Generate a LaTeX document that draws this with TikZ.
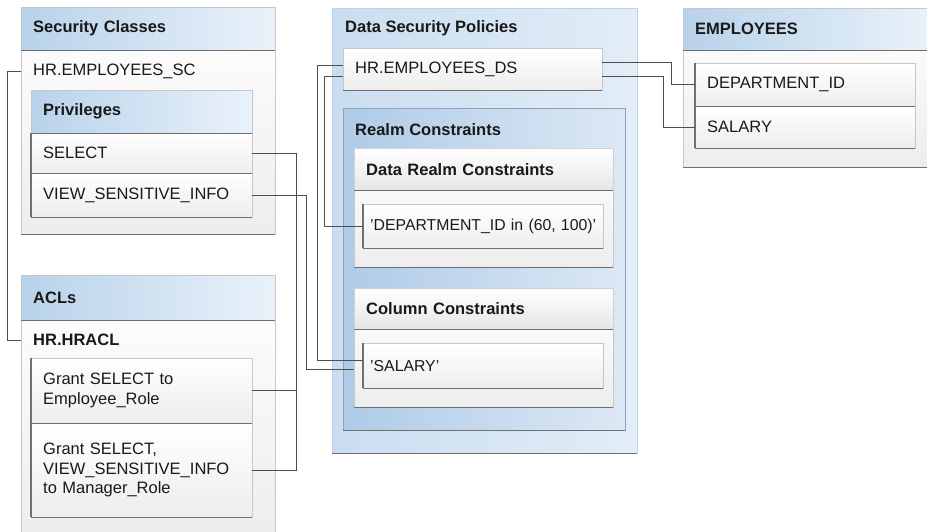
\documentclass[tikz,border=0pt]{standalone}
\usepackage{fontspec}
\setmainfont{Liberation Sans}
\usetikzlibrary{positioning}
\definecolor{headL}{HTML}{B8D2EA}
\definecolor{headR}{HTML}{EAF2FA}
\definecolor{polL}{HTML}{CADDF0}
\definecolor{polR}{HTML}{E2EDF7}
\definecolor{realmL}{HTML}{AFCBE7}
\definecolor{realmR}{HTML}{DCE8F5}
\definecolor{rim}{HTML}{707070}
\definecolor{wire}{HTML}{4E4E4E}
\newcommand{\plainfont}{\fontsize{16.5}{20}\selectfont}
\tikzset{box/.style = {anchor=north west, inner xsep=12pt, inner ysep=0pt, align=left, text=black!90, font=\plainfont},
         panel/.style = {box, draw=black!22, top color=white, bottom color=black!7},
         headbox/.style = {box, draw=black!22, left color=headL, right color=headR, font=\plainfont\bfseries},
         greyhead/.style = {box, draw=black!18, top color=white, bottom color=black!10, font=\plainfont\bfseries},
         tag/.style = {anchor=west, inner sep=0pt, text=black!90, font=\plainfont},
         boldtag/.style = {tag, font=\plainfont\bfseries},
         link/.style = {draw=wire, line width=0.9pt},
         rimline/.style = {draw=rim, line width=1.3pt}}

\begin{document}
\begin{tikzpicture}[x=1pt,y=-1pt]
\clip (0,0) rectangle (927,532);
\fill[white] (0,0) rectangle (927,532);

% security classes
\node[panel, minimum width=254pt, minimum height=227pt] (sc) at (21,7) {};
\node[headbox, text width=230pt, minimum height=43pt] (schd) at (21,7) {Security Classes};
\node[tag] (scname) at (33,71) {HR.EMPLOYEES\_SC};
\node[panel, minimum width=221pt, minimum height=127pt] (priv) at (31,90) {};
\node[headbox, text width=197pt, minimum height=43pt] (privhd) at (31,90) {Privileges};
\node[panel, text width=197pt, minimum height=40pt] (sel) at (31,133) {SELECT};
\node[panel, text width=197pt, minimum height=44pt] (vsi) at (31,173) {VIEW\_SENSITIVE\_INFO};

% acls
\node[panel, minimum width=254pt, minimum height=265pt] (acl) at (21,275) {};
\node[headbox, text width=230pt, minimum height=45pt] (aclhd) at (21,275) {ACLs};
\node[boldtag] (aclname) at (33,340) {HR.HRACL};
\node[panel, text width=197pt, minimum height=65pt] (grant) at (31,358) {Grant SELECT to\\Employee\_Role};
\node[panel, text width=197pt, minimum height=94pt, font=\fontsize{16.5}{19.5}\selectfont] (mgr) at (31,423) {Grant SELECT,\\VIEW\_SENSITIVE\_INFO\\to Manager\_Role};

% data security policies
\node[box, draw=headL, left color=polL, right color=polR, minimum width=305pt, minimum height=445pt] (dsp) at (332,8) {};
\node[boldtag] (dsptitle) at (345,28) {Data Security Policies};
\node[panel, text width=235pt, minimum height=42pt] (ds) at (343,48) {HR.EMPLOYEES\_DS};
\node[box, draw=realmL!80!black, left color=realmL, right color=realmR, minimum width=282pt, minimum height=322pt] (realm) at (343,108) {};
\node[boldtag] (realmtitle) at (355,130) {Realm Constraints};
\node[panel, minimum width=259pt, minimum height=119pt] (drc) at (354,148) {};
\node[greyhead, text width=235pt, minimum height=42pt] (drchd) at (354,148) {Data Realm Constraints};
\node[panel, inner xsep=7pt, text width=226pt, minimum height=44pt, font=\fontsize{15.8}{20}\selectfont] (dept) at (363,204) {'DEPARTMENT\_ID in (60, 100)'};
\node[panel, minimum width=259pt, minimum height=119pt] (cc) at (354,288) {};
\node[greyhead, text width=235pt, minimum height=41pt] (cchd) at (354,288) {Column Constraints};
\node[panel, inner xsep=7pt, text width=226pt, minimum height=45pt, font=\fontsize{15.8}{20}\selectfont] (sal) at (363,343) {'SALARY'};

% employees table
\node[panel, minimum width=250pt, minimum height=159pt] (emp) at (683,8) {};
\node[headbox, text width=226pt, minimum height=42pt] (emphd) at (683,8) {EMPLOYEES};
\node[panel, text width=196pt, minimum height=43pt] (deptid) at (695,63) {DEPARTMENT\_ID};
\node[panel, text width=196pt, minimum height=42pt] (salrow) at (695,106) {SALARY};

% darker bottom and left edges
\foreach \n in {sc,schd,privhd,sel,vsi,aclhd,grant,mgr,dsp,ds,realm,drchd,drc,dept,cchd,cc,sal,emp,emphd,deptid,salrow}
  \draw[rimline] (\n.south west) -- (\n.south east);
\foreach \n in {sel,vsi,grant,mgr,dept,sal,deptid,salrow}
  \draw[rimline] (\n.north west) -- (\n.south west);

% connectors
\coordinate (salhi) at ([yshift=5.5pt]sal.west);
\coordinate (sallo) at ([yshift=-3.5pt]sal.west);
\draw[link] (scname.west -| sc.west) -- ++(-14,0) |- (aclname.west -| acl.west);
\draw[link] (sel.east) -- ++(44,0) coordinate (bus) |- (mgr.east);
\draw[link] (grant.east) -- (grant.east -| bus);
\draw[link] (vsi.east) -- ++(54,0) |- (sallo -| cc.west);
\draw[link] ([yshift=4pt]ds.west) -- ++(-26,0) |- (salhi);
\draw[link] ([yshift=-7pt]ds.west) -- ++(-19,0) |- (dept.west);
\draw[link] ([yshift=7pt]ds.east) -- ++(69,0) |- (deptid.west);
\draw[link] ([yshift=-7pt]ds.east) -- ++(61,0) |- (salrow.west);
\end{tikzpicture}
\end{document}
